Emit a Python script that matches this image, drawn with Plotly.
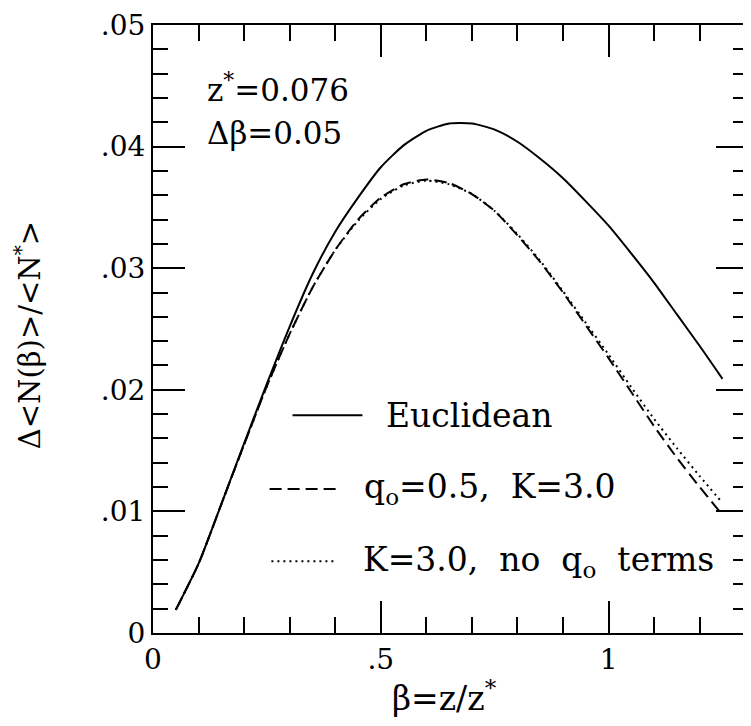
import plotly.graph_objects as go

# beta = z/z* grid and the three curves
beta = [0.05, 0.10, 0.15, 0.20, 0.25, 0.30, 0.35, 0.40, 0.45, 0.50, 0.55, 0.60, 0.65,
        0.70, 0.75, 0.80, 0.85, 0.90, 0.95, 1.00, 1.05, 1.10, 1.15, 1.20, 1.25]
euclidean = [0.0019, 0.0057, 0.0106, 0.0156, 0.0205, 0.0252, 0.0295, 0.0330, 0.0358,
             0.0383, 0.0401, 0.0413, 0.0419, 0.0419, 0.0414, 0.0404, 0.0390, 0.0374,
             0.0355, 0.0335, 0.0312, 0.0288, 0.0262, 0.0236, 0.0209]
q05_k3 = [0.0019, 0.0057, 0.0106, 0.0155, 0.0203, 0.0246, 0.0284, 0.0315, 0.0340,
          0.0358, 0.0369, 0.0373, 0.0370, 0.0361, 0.0347, 0.0327, 0.0305, 0.0280,
          0.0253, 0.0226, 0.0198, 0.0170, 0.0144, 0.0120, 0.0097]
k3_noq = [0.0019, 0.0057, 0.0106, 0.0155, 0.0203, 0.0246, 0.0284, 0.0315, 0.0339,
          0.0357, 0.0368, 0.0372, 0.0369, 0.0361, 0.0347, 0.0328, 0.0306, 0.0281,
          0.0255, 0.0229, 0.0202, 0.0176, 0.0152, 0.0129, 0.0107]

series_names = ["Euclidean", "q<sub>o</sub>=0.5,  K=3.0", "K=3.0,  no  q<sub>o</sub>  terms"]
series_dash = ["solid", "12px,6px", "2px,4px"]

y_tickvals = [0, 0.01, 0.02, 0.03, 0.04, 0.05]
y_ticktext = ["0", ".01", ".02", ".03", ".04", ".05"]
x_tickvals = [0, 0.5, 1]
x_ticktext = ["0", ".5", "1"]

FONT = "DejaVu Serif"

fig = go.Figure()
for ys, name, dash in zip([euclidean, q05_k3, k3_noq], series_names, series_dash):
    fig.add_trace(go.Scatter(x=beta, y=ys, name=name, mode="lines",
                             line=dict(color="black", width=2, dash=dash, shape="spline", smoothing=0.6),
                             showlegend=False))

# hand-drawn style legend: sample line + label, in paper coordinates
legend_y = [0.358, 0.237, 0.118]
legend_x0 = [0.2345, 0.196, 0.199]
legend_x1 = [0.352, 0.308, 0.308]
legend_tx = [0.389, 0.352, 0.350]
for name, dash, ly, x0, x1, tx in zip(series_names, series_dash, legend_y, legend_x0, legend_x1, legend_tx):
    fig.add_shape(type="line", xref="paper", yref="paper", x0=x0, x1=x1, y0=ly, y1=ly,
                  line=dict(color="black", width=2, dash=dash))
    fig.add_annotation(xref="paper", yref="paper", x=tx, y=ly, text=name, showarrow=False,
                       xanchor="left", yanchor="middle", font=dict(family=FONT, size=33, color="black"))

fig.add_annotation(xref="paper", yref="paper", x=0.087, y=0.897, text="z<sup>*</sup>=0.076",
                   showarrow=False, xanchor="left", yanchor="middle",
                   font=dict(family=FONT, size=31, color="black"))
fig.add_annotation(xref="paper", yref="paper", x=0.087, y=0.823, text="Δβ=0.05",
                   showarrow=False, xanchor="left", yanchor="middle",
                   font=dict(family=FONT, size=31, color="black"))

# axis titles
fig.add_annotation(xref="paper", yref="paper", x=0.49, y=-0.105, text="β=z/z<sup>*</sup>",
                   showarrow=False, xanchor="center", yanchor="middle",
                   font=dict(family=FONT, size=33, color="black"))
fig.add_annotation(xref="paper", yref="paper", x=-0.21, y=0.49,
                   text="Δ&lt;N(β)&gt;/&lt;N<sup>*</sup>&gt;", textangle=-90,
                   showarrow=False, xanchor="center", yanchor="middle",
                   font=dict(family=FONT, size=29, color="black"))

axis_common = dict(showgrid=False, zeroline=False, showline=True, linecolor="black", linewidth=2,
                   mirror="ticks", ticks="inside", tickcolor="black", tickwidth=2,
                   ticklabeloverflow="allow",
                   tickfont=dict(family=FONT, size=28, color="black"))
fig.update_xaxes(range=[0, 1.306], tickvals=x_tickvals, ticktext=x_ticktext, ticklen=32,
                 minor=dict(dtick=0.1, ticks="inside", ticklen=16, tickwidth=2, tickcolor="black"),
                 **axis_common)
fig.update_yaxes(range=[0, 0.05], tickvals=y_tickvals, ticktext=y_ticktext, ticklen=32,
                 minor=dict(dtick=0.002, ticks="inside", ticklen=15, tickwidth=2, tickcolor="black"),
                 **axis_common)

# page body adds an 8px margin, so the figure is sized to the visible area
fig.update_layout(width=743, height=718, plot_bgcolor="white", paper_bgcolor="white",
                  margin=dict(l=145, r=1, t=14, b=93), font=dict(family=FONT, color="black"))

fig.write_html("out.html")
